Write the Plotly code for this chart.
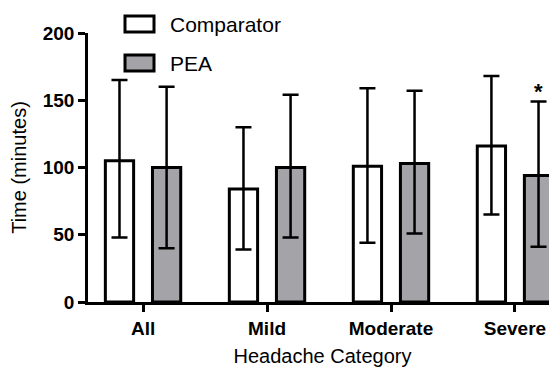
import plotly.graph_objects as go

categories = ["All", "Mild", "Moderate", "Severe"]
comparator_mean = [105, 84, 101, 116]
comparator_upper = [165, 130, 159, 168]
comparator_lower = [48, 39, 44, 65]
pea_mean = [100, 100, 103, 94]
pea_upper = [160, 154, 157, 149]
pea_lower = [40, 48, 51, 41]
series_names = ["Comparator", "PEA"]
y_ticks = [0, 50, 100, 150, 200]

FONT = "Liberation Sans, Arial, sans-serif"
PEA_GREY = "#a3a3a8"

# page body has an 8px margin; the figure is sized to compensate
W, H = 549, 361
ML, MR, MT, MB = 80, 0, 25, 67
PW, PH = W - ML - MR, H - MT - MB


def err(mean, up, lo):
    return dict(type="data", symmetric=False,
                array=[u - m for u, m in zip(up, mean)],
                arrayminus=[m - l for m, l in zip(mean, lo)],
                color="black", thickness=2.5, width=8)


fig = go.Figure()
fig.add_trace(go.Bar(x=categories, y=comparator_mean, name=series_names[0],
                     marker=dict(color="white", line=dict(color="black", width=3)),
                     error_y=err(comparator_mean, comparator_upper, comparator_lower)))
fig.add_trace(go.Bar(x=categories, y=pea_mean, name=series_names[1],
                     marker=dict(color=PEA_GREY, line=dict(color="black", width=3)),
                     error_y=err(pea_mean, pea_upper, pea_lower)))

fig.update_layout(
    width=W, height=H,
    margin=dict(l=ML, r=MR, t=MT, b=MB),
    paper_bgcolor="white", plot_bgcolor="white",
    barmode="group", bargap=0.24, bargroupgap=0.4,
    showlegend=False,
    font=dict(family=FONT, color="black"),
)
fig.update_xaxes(
    range=[-0.444, 3.339], showline=True, linecolor="black", linewidth=2.5,
    ticks="outside", ticklen=7, tickwidth=2.5, tickcolor="black",
    tickfont=dict(size=19, weight="bold", color="black"), showgrid=False, zeroline=False,
    title=dict(text="Headache Category", font=dict(size=20, color="black"), standoff=12),
)
fig.update_yaxes(
    range=[0, 200], tickvals=y_ticks, showline=True, linecolor="black", linewidth=2.5,
    ticks="outside", ticklen=7, tickwidth=2.5, tickcolor="black",
    tickfont=dict(size=19, weight="bold", color="black"), showgrid=False, zeroline=False,
    title=dict(text="Time (minutes)", font=dict(size=20, color="black"), standoff=14),
)

# legend drawn as boxes + text (page pixel positions converted to paper coords)
def px_x(px):
    return (px - 8 - ML) / PW


def px_y(py):
    return (H - MB - (py - 8)) / PH


legend_fill = ["white", PEA_GREY]
for i, (name, fill) in enumerate(zip(series_names, legend_fill)):
    top = 16 + 39 * i
    fig.add_shape(type="rect", xref="paper", yref="paper",
                  x0=px_x(125), x1=px_x(154), y0=px_y(top + 16), y1=px_y(top),
                  line=dict(color="black", width=3), fillcolor=fill)
    fig.add_annotation(xref="paper", yref="paper", x=px_x(168), y=px_y(top + 8),
                       text=name, showarrow=False, xanchor="left", yanchor="middle",
                       font=dict(size=21, family=FONT, color="black"))

# significance star above Severe PEA
fig.add_annotation(x="Severe", y=pea_upper[3], text="<b>*</b>", showarrow=False,
                   xshift=23.5, yshift=10, font=dict(size=22, family=FONT, color="black"))

fig.write_html("out.html")
